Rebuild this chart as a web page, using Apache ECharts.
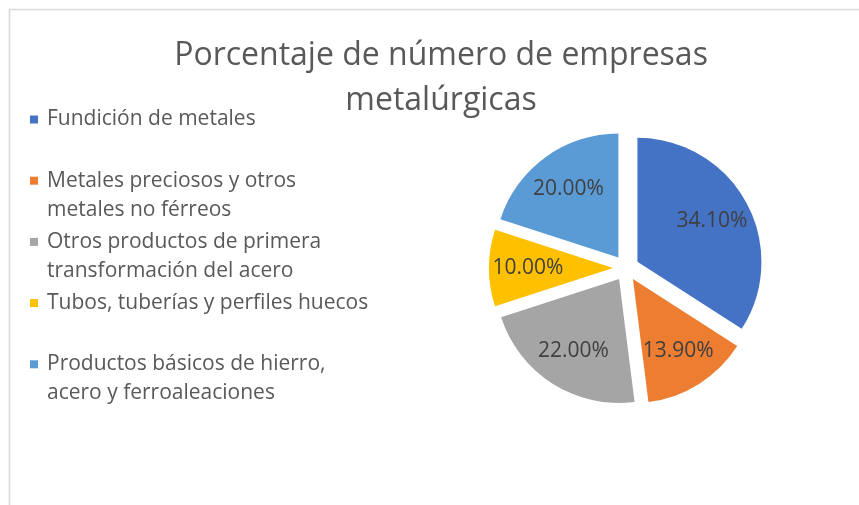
<!DOCTYPE html>
<html>
<head>
<meta charset="utf-8">
<title>Porcentaje de número de empresas metalúrgicas</title>
<script src="https://cdn.jsdelivr.net/npm/echarts@6/dist/echarts.min.js"></script>
<style>
  html, body { margin: 0; padding: 0; background: #fff; }
  #chart { width: 859px; height: 505px; }
</style>
</head>
<body>
<div id="chart"></div>
<script>
const categories = [
  'Fundición de metales',
  'Metales preciosos y otros metales no férreos',
  'Otros productos de primera transformación del acero',
  'Tubos, tuberías y perfiles huecos',
  'Productos básicos de hierro, acero y ferroaleaciones'
]
// how the legend wraps each name
const legendLines = [
  ['Fundición de metales'],
  ['Metales preciosos y otros', 'metales no férreos'],
  ['Otros productos de primera', 'transformación del acero'],
  ['Tubos, tuberías y perfiles huecos'],
  ['Productos básicos de hierro,', 'acero y ferroaleaciones']
]
const values = [34.1, 13.9, 22.0, 10.0, 20.0]
const colors = ['#4472C4', '#ED7D31', '#A5A5A5', '#FFC000', '#5B9BD5']

const FONT = '"Open Sans", "Noto Sans", sans-serif'

const chart = echarts.init(document.getElementById('chart'))

// legend markers are drawn as rich text boxes so they line up with the first line
const legendRich = {
  t: { fontFamily: FONT, fontSize: 21, color: '#595959', lineHeight: 29 },
  gap: { width: 9 },
  ind: { width: 17 }
}
colors.forEach((c, i) => {
  legendRich['m' + i] = { width: 8, height: 8, backgroundColor: c }
})

const option = {
  backgroundColor: '#fff',
  animation: false,
  color: colors,
  title: {
    text: 'Porcentaje de número de empresas\nmetalúrgicas',
    left: 441,
    top: 33,
    textAlign: 'center',
    padding: 0,
    textStyle: {
      fontFamily: FONT,
      fontSize: 32,
      fontWeight: 'normal',
      color: '#595959',
      lineHeight: 45
    }
  },
  legend: {
    orient: 'vertical',
    left: 20,
    top: 104,
    icon: 'none',
    itemWidth: 0,
    itemHeight: 8,
    itemGap: 11.2,
    selectedMode: false,
    data: categories,
    formatter: function (name) {
      const i = categories.indexOf(name)
      const lines = legendLines[i]
      return '{m' + i + '|}{gap|}{t|' + lines[0] + '}\n{ind|}{t|' + (lines[1] || ' ') + '}'
    },
    textStyle: {
      rich: legendRich
    }
  },
  graphic: [
    {
      type: 'rect',
      shape: { x: 9.5, y: 9.5, width: 870, height: 520 },
      style: { fill: 'none', stroke: '#d9d9d9', lineWidth: 1.6 },
      silent: true
    }
  ],
  series: [
    {
      type: 'pie',
      center: [626, 268],
      radius: [0, 124],
      startAngle: 90,
      clockwise: true,
      selectedMode: 'multiple',
      selectedOffset: 13,
      silent: true,
      label: { show: false },
      labelLine: { show: false },
      emphasis: { disabled: true },
      data: categories.map((name, i) => ({
        name: name,
        value: values[i],
        selected: true
      }))
    },
    {
      // thin transparent ring that only places the percentage labels
      // (inside labels sit at the middle of the ring)
      type: 'pie',
      center: [626, 268],
      radius: [76, 88],
      startAngle: 90,
      clockwise: true,
      selectedMode: 'multiple',
      selectedOffset: 13,
      silent: true,
      z: 3,
      itemStyle: { color: 'rgba(0,0,0,0)' },
      labelLine: { show: false },
      emphasis: { disabled: true },
      label: {
        show: true,
        position: 'inside',
        fontFamily: FONT,
        fontSize: 21,
        color: '#404040',
        formatter: p => p.value.toFixed(2) + '%'
      },
      data: categories.map((name, i) => ({
        name: name,
        value: values[i],
        selected: true
      }))
    }
  ]
}

chart.setOption(option)
</script>
</body>
</html>
